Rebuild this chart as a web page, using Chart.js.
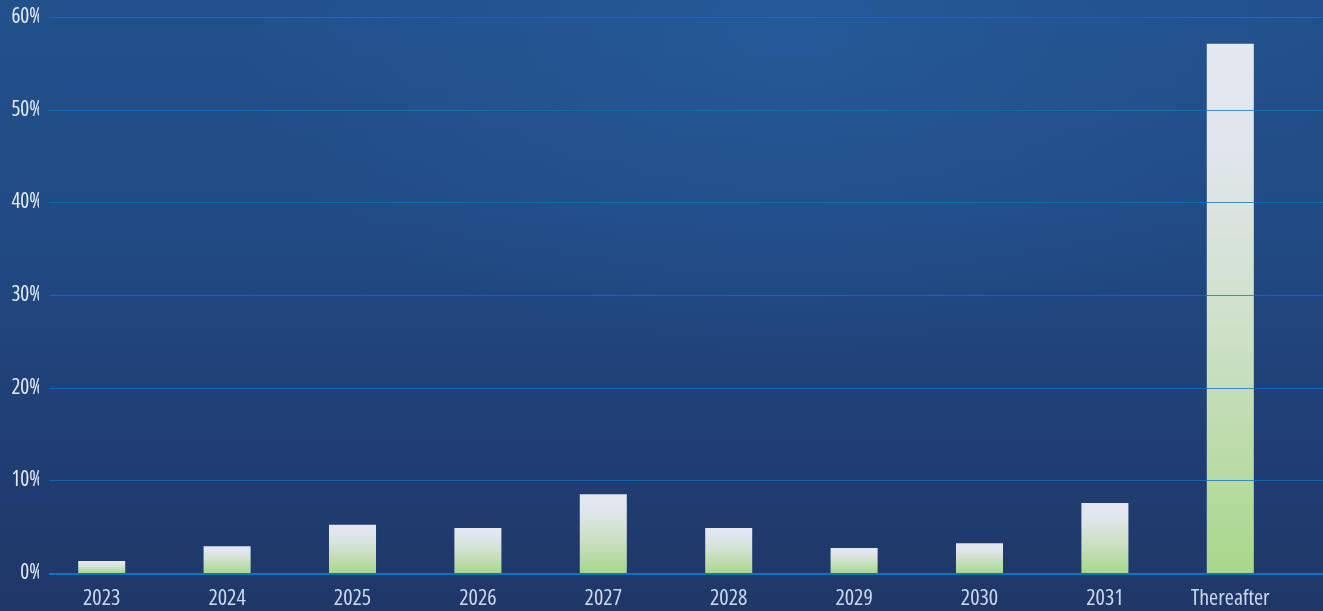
<!DOCTYPE html>
<html>
<head>
<meta charset="utf-8">
<script src="https://cdn.jsdelivr.net/npm/chart.js@4"></script>
<style>
  html, body { margin: 0; padding: 0; }
  body {
    width: 1323px; height: 611px; overflow: hidden;
    background:
      radial-gradient(ellipse 560px 320px at 790px 30px, rgba(38,92,156,0.7), rgba(38,92,156,0) 100%),
      linear-gradient(180deg, #22518c 0%, #224b85 35%, #203f75 70%, #203768 100%);
  }
  #wrap { position: relative; width: 1323px; height: 611px; }
</style>
</head>
<body>
<div id="wrap"><canvas id="myChart" width="1323" height="611"></canvas></div>
<script>
var categories = ['2023', '2024', '2025', '2026', '2027', '2028', '2029', '2030', '2031', 'Thereafter'];
var shares = [1.3, 2.9, 5.2, 4.85, 8.5, 4.85, 2.7, 3.2, 7.55, 57.1];
var yTicks = [0, 10, 20, 30, 40, 50, 60];

// gridlines run from just after the labels to the right edge, on top of the bars
var gridPlugin = {
    id: 'fullGrid',
    afterDatasetsDraw: function(chart) {
        var ctx = chart.ctx;
        var y = chart.scales.y;
        ctx.save();
        yTicks.forEach(function(t) {
            var py = Math.round(y.getPixelForValue(t));
            ctx.beginPath();
            if (t === 0) {
                ctx.lineWidth = 2;
                ctx.strokeStyle = 'rgba(12,120,200,0.95)';
                ctx.moveTo(49, py + 1);
                ctx.lineTo(chart.width, py + 1);
            } else {
                ctx.lineWidth = 1;
                ctx.strokeStyle = 'rgba(10,115,200,0.75)';
                ctx.moveTo(49, py + 0.5);
                ctx.lineTo(chart.width, py + 0.5);
            }
            ctx.stroke();
        });
        ctx.restore();
    }
};

function barGradient(context) {
    var chart = context.chart;
    if (!chart.chartArea) return '#e3e7ef';
    var y = chart.scales.y;
    var v = context.parsed ? context.parsed.y : context.raw;
    var top = y.getPixelForValue(v);
    var bottom = y.getPixelForValue(0);
    var g = chart.ctx.createLinearGradient(0, top, 0, bottom);
    g.addColorStop(0, '#e3e7ef');
    g.addColorStop(0.18, '#e1e6ee');
    g.addColorStop(0.5, '#d0e1cc');
    g.addColorStop(0.75, '#bddcad');
    g.addColorStop(1, '#a8d78a');
    return g;
}

// 'condensed' goes in the weight slot so the canvas font string becomes "condensed 22px 'Open Sans'"
var labelFont = function(size) {
    return { family: '"Open Sans", sans-serif', size: size, weight: 'condensed' };
};

var ctx = document.getElementById('myChart').getContext('2d');
var myChart = new Chart(ctx, {
    type: 'bar',
    data: {
        labels: categories,
        datasets: [{
            data: shares,
            backgroundColor: barGradient,
            borderWidth: 0,
            barPercentage: 0.375,
            categoryPercentage: 1
        }]
    },
    plugins: [gridPlugin],
    options: {
        responsive: false,
        animation: false,
        layout: { padding: { top: 17, right: 30, left: 0, bottom: 0 } },
        plugins: { legend: { display: false }, tooltip: { enabled: false } },
        scales: {
            x: {
                grid: { display: false, drawTicks: false },
                border: { display: false },
                ticks: {
                    color: '#cdd8ea',
                    font: labelFont(22),
                    padding: 13,
                    maxRotation: 0,
                    autoSkip: false
                },
                afterFit: function(scale) { scale.height = 38; }
            },
            y: {
                min: 0,
                max: 60,
                grid: { display: false, drawTicks: false },
                border: { display: false },
                ticks: {
                    stepSize: 10,
                    color: '#e6ecf5',
                    font: labelFont(21),
                    padding: -4,
                    callback: function(v) { return v + '%'; }
                },
                afterFit: function(scale) { scale.width = 39; }
            }
        }
    }
});
</script>
</body>
</html>
